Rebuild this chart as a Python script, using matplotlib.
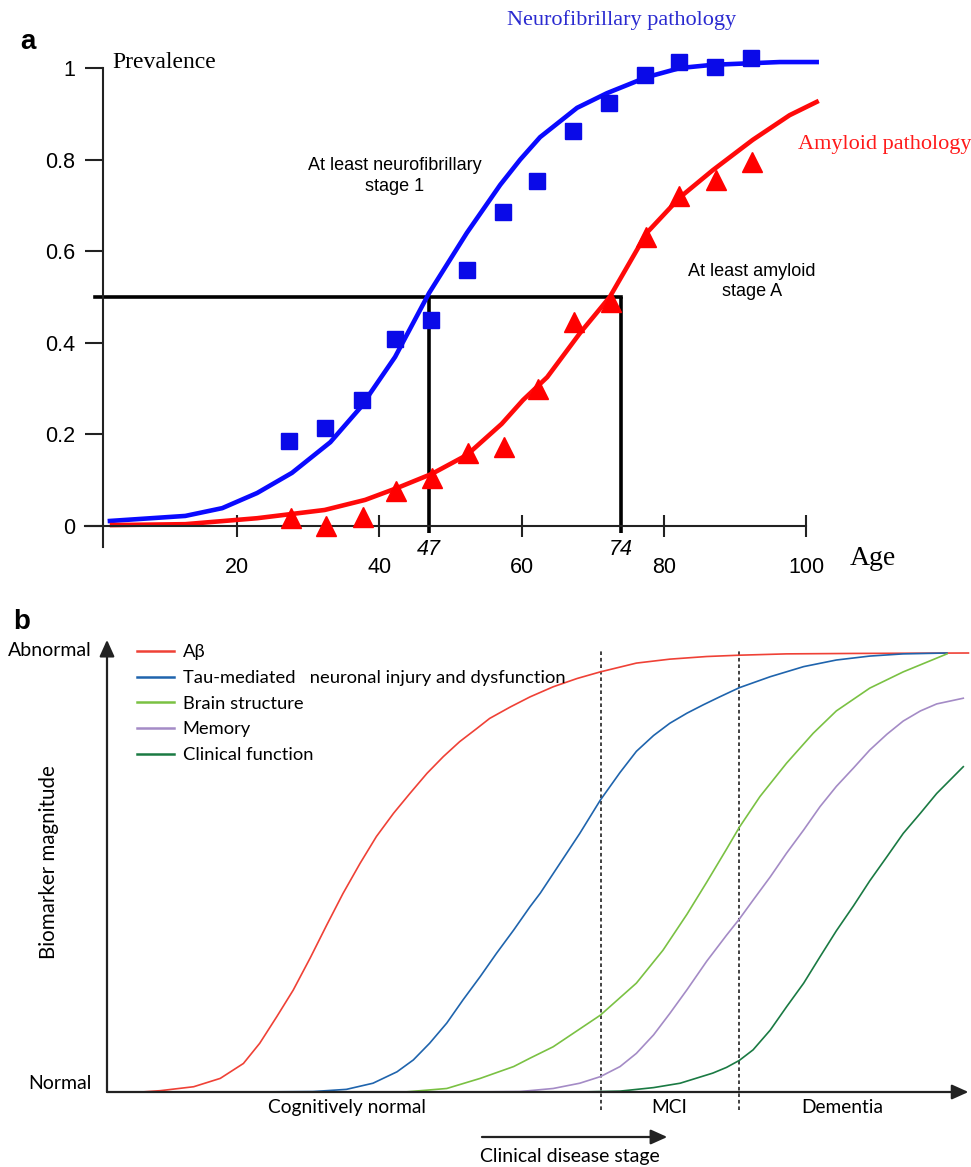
import matplotlib
matplotlib.use('Agg')
import matplotlib.pyplot as plt
from matplotlib.lines import Line2D

# ---------- panel a : prevalence vs age ----------
nft_age = [27.3, 32.3, 37.6, 42.2, 47.3, 52.3, 57.4, 62.2, 67.2, 72.3, 77.3, 82.1, 87.2, 92.3]
nft_prev = [0.186, 0.214, 0.275, 0.408, 0.45, 0.559, 0.686, 0.753, 0.862, 0.924, 0.985, 1.013, 1.002, 1.022]
amy_age = [27.5, 32.5, 37.7, 42.3, 47.4, 52.4, 57.5, 62.3, 67.3, 72.6, 77.5, 82.2, 87.3, 92.4]
amy_prev = [0.017, 0.0, 0.02, 0.076, 0.105, 0.16, 0.172, 0.30, 0.445, 0.49, 0.63, 0.72, 0.755, 0.795]

nft_fit_age = [2.1, 12.7, 17.9, 22.8, 27.7, 33.1, 37.3, 42.2, 47.0, 52.3, 57.0, 59.8, 62.6, 67.8, 72.0, 77.6, 82.3,
               86.9, 96.3, 101.5]
nft_fit = [0.011, 0.022, 0.039, 0.072, 0.116, 0.183, 0.258, 0.369, 0.509, 0.64, 0.745, 0.80, 0.849, 0.913, 0.945,
           0.98, 1.0, 1.007, 1.013, 1.013]
amy_fit_age = [2.4, 12.7, 22.8, 32.3, 38.0, 42.5, 47.4, 52.3, 57.2, 60.2, 63.6, 68.2, 72.4, 77.6, 82.3, 86.9, 92.5,
               97.7, 101.5]
amy_fit = [0.002, 0.004, 0.017, 0.035, 0.057, 0.083, 0.114, 0.155, 0.223, 0.275, 0.325, 0.421, 0.5, 0.64, 0.718,
           0.777, 0.843, 0.897, 0.926]

half_age = [47, 74]
y_ticks = [0, 0.2, 0.4, 0.6, 0.8, 1]
y_ticklabels = ['0', '0.2', '0.4', '0.6', '0.8', '1']
x_ticks = [20, 40, 60, 80, 100]

# ---------- panel b : biomarker model ----------
abeta_x = [0, 4.0, 6.2, 10.1, 13.2, 15.9, 17.8, 19.8, 21.7, 23.7, 25.6, 27.5, 29.5, 31.4, 33.4, 35.3, 37.3, 39.2,
           41.1, 43.1, 44.6, 47.0, 49.3, 52.0, 54.8, 57.5, 61.7, 65.6, 69.9, 73.7, 79.2, 87.0, 100.4]
abeta_y = [0, 0, 0.003, 0.012, 0.031, 0.065, 0.111, 0.172, 0.232, 0.306, 0.38, 0.452, 0.521, 0.582, 0.635, 0.68,
           0.726, 0.764, 0.798, 0.828, 0.851, 0.877, 0.90, 0.923, 0.942, 0.957, 0.977, 0.986, 0.992, 0.995, 0.998,
           0.999, 1.0]
tau_x = [16.7, 24.0, 27.9, 31.0, 33.8, 35.7, 37.6, 39.6, 41.5, 43.5, 45.4, 47.4, 49.3, 50.5, 52.8, 55.1, 57.5,
         59.8, 61.7, 63.7, 65.6, 67.6, 69.5, 71.4, 73.7, 77.3, 81.2, 85.0, 88.9, 92.8, 97.9]
tau_y = [0, 0.001, 0.006, 0.02, 0.046, 0.073, 0.111, 0.157, 0.21, 0.263, 0.316, 0.369, 0.422, 0.453, 0.521, 0.589,
         0.665, 0.728, 0.776, 0.812, 0.84, 0.863, 0.882, 0.90, 0.921, 0.946, 0.969, 0.984, 0.993, 0.998, 1.0]
brain_x = [34.7, 39.6, 43.5, 47.4, 49.3, 52.0, 57.5, 61.7, 64.8, 67.6, 69.9, 72.2, 73.7, 76.1, 79.2, 82.3, 85.0,
           88.9, 92.8, 97.9]
brain_y = [0, 0.008, 0.031, 0.058, 0.077, 0.103, 0.175, 0.248, 0.323, 0.405, 0.478, 0.553, 0.603, 0.673, 0.749,
           0.817, 0.868, 0.92, 0.957, 0.998]
memory_x = [42.1, 48.1, 52.0, 55.1, 57.5, 59.8, 61.7, 63.7, 65.6, 67.6, 69.9, 72.2, 73.7, 75.3, 77.3, 79.2, 81.2,
            83.1, 85.0, 87.0, 88.9, 90.9, 92.8, 94.8, 96.7, 99.8]
memory_y = [0, 0.001, 0.008, 0.02, 0.035, 0.058, 0.088, 0.13, 0.179, 0.233, 0.298, 0.357, 0.394, 0.437, 0.49,
            0.544, 0.597, 0.65, 0.696, 0.738, 0.779, 0.815, 0.845, 0.868, 0.884, 0.897]
clin_x = [55.1, 59.8, 63.7, 66.8, 70.6, 72.2, 73.7, 75.3, 77.3, 79.2, 81.2, 83.1, 85.0, 87.0, 88.9, 90.9, 92.8,
          94.8, 96.7, 99.8]
clin_y = [0, 0.002, 0.01, 0.02, 0.043, 0.056, 0.072, 0.096, 0.141, 0.194, 0.248, 0.308, 0.367, 0.424, 0.481,
          0.536, 0.589, 0.635, 0.68, 0.741]

series_labels = ['Aβ', 'Tau-mediated   neuronal injury and dysfunction', 'Brain structure', 'Memory',
                 'Clinical function']
series_colors = ['#ef4136', '#1f64ad', '#7ac143', '#a48bc6', '#1a7a43']
stage_bounds = [57.6, 73.7]
stage_names = ['Cognitively normal', 'MCI', 'Dementia']
stage_pos = [28.0, 65.5, 85.7]

SERIF = 'Liberation Serif'
SANS = 'Liberation Sans'
MYR = ['Lato', 'DejaVu Sans']

W, H = 971, 1167
fig = plt.figure(figsize=(W / 100, H / 100), dpi=100)

# ---- panel a ----
ax = fig.add_axes([0, (H - 600) / H, 1, 600 / H])
ax.set_xlim(-95 / 7.11, (W - 95) / 7.11)
ax.set_ylim((526 - 600) / 458, 526 / 458)
for s in ['top', 'right']:
    ax.spines[s].set_visible(False)
ax.spines['left'].set_position(('data', 1.1))
ax.spines['left'].set_bounds(-0.046, 1.0)
ax.spines['bottom'].set_position(('data', 0))
ax.spines['bottom'].set_bounds(-1.4, 100)
for s in ['left', 'bottom']:
    ax.spines[s].set_linewidth(1.5)
    ax.spines[s].set_color('#222222')

ax.set_yticks(y_ticks)
ax.set_yticklabels(y_ticklabels, fontfamily=SANS)
ax.set_xticks(x_ticks)
ax.set_xticklabels([str(v) for v in x_ticks], fontfamily=SANS)
ax.tick_params(axis='y', direction='out', length=13, width=1.5, pad=7, labelsize=15.5, color='#222222')
ax.tick_params(axis='x', direction='inout', length=16, width=1.5, pad=14, labelsize=15.5, color='#222222')

ax.plot([0, half_age[1]], [0.5, 0.5], color='k', lw=2.6, zorder=1)
ax.vlines(half_age, -0.015, 0.5, color='k', lw=2.6, zorder=1)
for a in half_age:
    ax.text(a, -0.052, str(a), ha='center', va='center', fontsize=15.5, style='italic', fontfamily=SANS)

ax.plot(nft_fit_age, nft_fit, color='#0a0aff', lw=3.3, zorder=2, solid_joinstyle='round')
ax.plot(amy_fit_age, amy_fit, color='#ff0a0a', lw=3.3, zorder=2, solid_joinstyle='round')
ax.plot(nft_age, nft_prev, 's', ms=12, color='#0a0ae8', zorder=3)
ax.plot(amy_age, amy_prev, '^', ms=14, color='#ff0000', zorder=3)

ax.text(2.5, 1.011, 'Prevalence', fontsize=17, fontfamily=SERIF, va='center', ha='left')
ax.text(57.9, 1.105, 'Neurofibrillary pathology', fontsize=16, fontfamily=SERIF, color='#2a2ad0', va='center')
ax.text(98.9, 0.832, 'Amyloid pathology', fontsize=16, fontfamily=SERIF, color='#ff1a1a', va='center',
        clip_on=False)
ax.text(42.2, 0.764, 'At least neurofibrillary\nstage 1', fontsize=13, fontfamily=SANS, ha='center',
        va='center', linespacing=1.25)
ax.text(92.4, 0.534, 'At least amyloid\nstage A', fontsize=13, fontfamily=SANS, ha='center', va='center',
        linespacing=1.25)
ax.text(106.2, -0.07, 'Age', fontsize=20, fontfamily=SERIF, va='center')
ax.text(-9.4, 1.057, 'a', fontsize=20, fontweight='bold', fontfamily=SANS, va='center', ha='center')

# ---- panel b ----
bx = fig.add_axes([0, 0, 1, 567 / H])
bx.set_xlim(-107 / 8.58, (W - 107) / 8.58)
bx.set_ylim((1092 - 1167) / 439, (1092 - 600) / 439)
bx.axis('off')

bx.vlines(stage_bounds, -0.041, 1.007, colors='#333333', linestyles=(0, (2, 1.6)), lw=1.3, zorder=1)

series = [(abeta_x, abeta_y), (tau_x, tau_y), (brain_x, brain_y), (memory_x, memory_y), (clin_x, clin_y)]
handles = []
for (xs, ys), col in zip(series, series_colors):
    bx.plot(xs, ys, color=col, lw=1.2, zorder=2, solid_joinstyle='round')
    handles.append(Line2D([], [], color=col, lw=1.8))

arrow_kw = dict(arrowstyle='-|>,head_length=1.0,head_width=0.45', lw=1.6, color='#222222',
                shrinkA=0, shrinkB=0)
bx.annotate('', xy=(0, 1.03), xytext=(0, 0), arrowprops=arrow_kw)
bx.annotate('', xy=(100.4, 0), xytext=(0, 0), arrowprops=arrow_kw)
bx.annotate('', xy=(65.3, -0.1025), xytext=(43.7, -0.1025), arrowprops=arrow_kw)

bx.legend(handles, series_labels, loc='upper left', bbox_to_anchor=(3.5, 1.02),
          bbox_transform=bx.transData, frameon=False, handlelength=2.0, handletextpad=0.5,
          borderpad=0, borderaxespad=0, labelspacing=0.53, prop={'family': MYR, 'size': 13.2})

bx.text(-1.75, 1.005, 'Abnormal', ha='right', va='center', fontsize=14, fontfamily=MYR)
bx.text(-1.75, 0.02, 'Normal', ha='right', va='center', fontsize=14, fontfamily=MYR)
bx.text(-6.76, 0.524, 'Biomarker magnitude', rotation=90, ha='center', va='center', fontsize=14.8,
        fontfamily=MYR)
for name, xp in zip(stage_names, stage_pos):
    bx.text(xp, -0.036, name, ha='center', va='center', fontsize=13.8, fontfamily=MYR)
bx.text(54.0, -0.148, 'Clinical disease stage', ha='center', va='center', fontsize=14, fontfamily=MYR)
bx.text(-9.9, 1.07, 'b', fontsize=20, fontweight='bold', fontfamily=SANS, va='center', ha='center')

fig.savefig('out.png', dpi=100)
